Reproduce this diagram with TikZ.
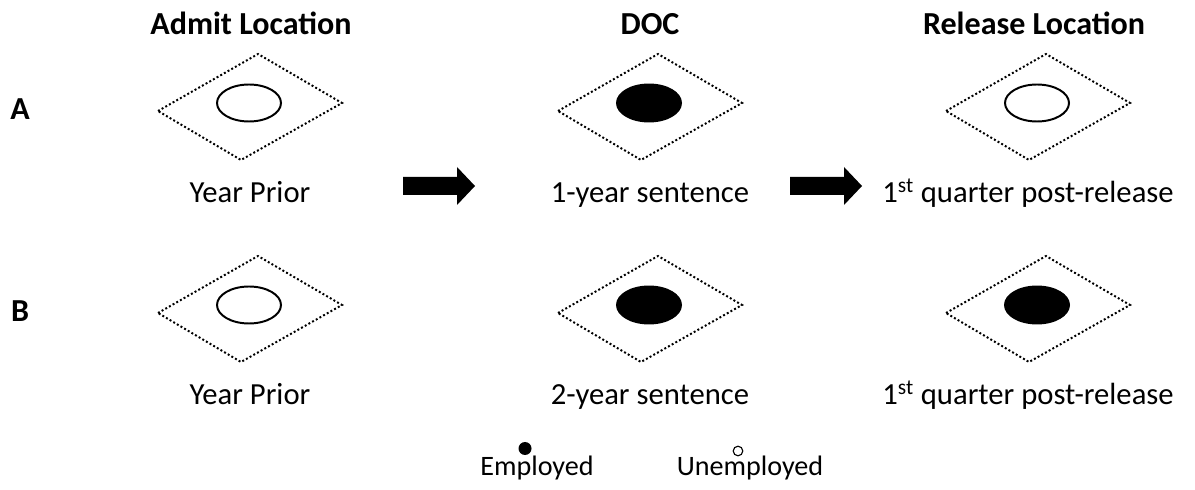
\documentclass[tikz,border=0pt]{standalone}
\usepackage{fontspec}
\setmainfont{Carlito}
\begin{document}
\begin{tikzpicture}[x=0.025cm, y=-0.025cm,
    cell/.style={line width=1.4pt, dash pattern=on 1.4pt off 1.6pt},
    ring/.style={line width=1.4pt},
    txt/.style={font=\fontsize{21.8}{26}\selectfont, anchor=base, inner sep=0pt},
    key/.style={font=\fontsize{20}{24}\selectfont, anchor=base, inner sep=0pt},
    hdr/.style={font=\fontsize{22.8}{27}\selectfont\bfseries, anchor=base, inner sep=0pt}]
        \useasboundingbox (0,0) rectangle (1195,490);

        % headers and rows
        \node[hdr] (admit) at (251, 35) {Admit Location};
        \node[hdr] (doc) at (650, 35) {DOC};
        \node[hdr] (release) at (1034, 35) {Release Location};
        \node[hdr] (rowA) at (20, 120) {A};
        \node[hdr] (rowB) at (20, 322) {B};

        % row A
        \draw[cell, shift={(250, 107)}] (-92, 4) -- (8, -53) -- (92, -4) -- (-9, 53) -- cycle;
        \draw[cell, shift={(650, 107)}] (-92, 4) -- (8, -53) -- (92, -4) -- (-9, 53) -- cycle;
        \draw[cell, shift={(1038, 107)}] (-92, 4) -- (8, -53) -- (92, -4) -- (-9, 53) -- cycle;
        \draw[ring] (249, 103) ellipse [x radius = 32, y radius = 18.5];
        \filldraw[ring] (649, 103) ellipse [x radius = 32, y radius = 18.5];
        \draw[ring] (1037, 103) ellipse [x radius = 32, y radius = 18.5];

        \node[txt] (priorA) at (250, 203) {Year Prior};
        \node[txt] (sentA) at (650, 203) {1-year sentence};
        \node[txt] (postA) at (1028, 203) {1\textsuperscript{st} quarter post-release};

        \fill (403, 177) -- (457, 177) -- (457, 167) -- (475, 186) -- (457, 205) -- (457, 195) -- (403, 195) -- cycle;
        \fill (790, 177) -- (844, 177) -- (844, 167) -- (862, 186) -- (844, 205) -- (844, 195) -- (790, 195) -- cycle;

        % row B
        \draw[cell, shift={(250, 309)}] (-92, 4) -- (8, -53) -- (92, -4) -- (-9, 53) -- cycle;
        \draw[cell, shift={(650, 309)}] (-92, 4) -- (8, -53) -- (92, -4) -- (-9, 53) -- cycle;
        \draw[cell, shift={(1038, 309)}] (-92, 4) -- (8, -53) -- (92, -4) -- (-9, 53) -- cycle;
        \draw[ring] (249, 305) ellipse [x radius = 32, y radius = 18.5];
        \filldraw[ring] (649, 305) ellipse [x radius = 32, y radius = 18.5];
        \filldraw[ring] (1037, 305) ellipse [x radius = 32, y radius = 18.5];

        \node[txt] (priorB) at (250, 405) {Year Prior};
        \node[txt] (sentB) at (650, 405) {2-year sentence};
        \node[txt] (postB) at (1028, 405) {1\textsuperscript{st} quarter post-release};

        % legend
        \fill (525, 448.5) circle [radius = 6.5];
        \draw[line width=0.8pt] (738, 451) circle [radius = 4.8];
        \node[key] (emp) at (537, 475) {Employed};
        \node[key] (unemp) at (750, 475) {Unemployed};

    \end{tikzpicture}
\end{document}
